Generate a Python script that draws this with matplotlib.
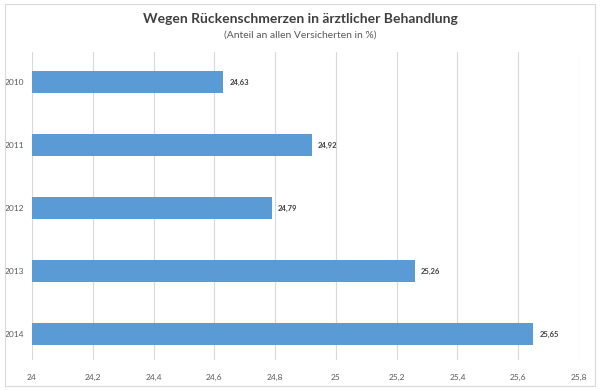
import matplotlib
matplotlib.use("Agg")
import matplotlib.pyplot as plt
from matplotlib.patches import Rectangle

years = ["2010", "2011", "2012", "2013", "2014"]
values = [24.63, 24.92, 24.79, 25.26, 25.65]
xticks = [24, 24.2, 24.4, 24.6, 24.8, 25, 25.2, 25.4, 25.6, 25.8]
title = "Wegen Rückenschmerzen in ärztlicher Behandlung"
subtitle = "(Anteil an allen Versicherten in %)"

plt.rcParams['font.family'] = ['Lato', 'DejaVu Sans']

W, H = 600, 390
fig = plt.figure(figsize=(6, 3.9), dpi=100)
fig.patch.set_facecolor("white")
fig.patches.append(Rectangle((5 / W, 1 - 386 / H), 590 / W, 382 / H, transform=fig.transFigure,
                             fill=False, edgecolor="#D9D9D9", linewidth=0.8))

left, right, top, bottom = 32, 579, 52, 360
ax = fig.add_axes([left / W, 1 - bottom / H, (right - left) / W, (bottom - top) / H])

pos = list(range(len(years)))
ax.barh(pos, [v - 24 for v in values], left=24, height=0.34, color="#5B9BD5", zorder=3)
ax.set_xlim(24, 25.8)
ax.set_ylim(4.41, -0.476)
ax.set_xticks(xticks)
ax.set_xticklabels([str(t).replace(".", ",") for t in xticks], fontsize=6, color="#595959")
ax.set_yticks(pos)
ax.set_yticklabels(years, fontsize=6, color="#595959")
ax.tick_params(axis="both", length=0)
ax.tick_params(axis="x", pad=10)
ax.tick_params(axis="y", pad=6)
ax.grid(axis="x", color="#D9D9D9", linewidth=0.8, zorder=0)
for s in ax.spines.values():
    s.set_visible(False)

for p, v in zip(pos, values):
    ax.text(v + 0.02, p, f"{v:.2f}".replace(".", ","), va="center", ha="left",
            fontsize=5.5, fontweight="bold", color="#404040")

fig.text(0.5, 1 - 19 / H, title, ha="center", va="center", fontsize=10, fontweight="bold", color="#404040")
fig.text(0.5, 1 - 35 / H, subtitle, ha="center", va="center", fontsize=7.5, color="#595959")

fig.savefig("out.png", dpi=100)
